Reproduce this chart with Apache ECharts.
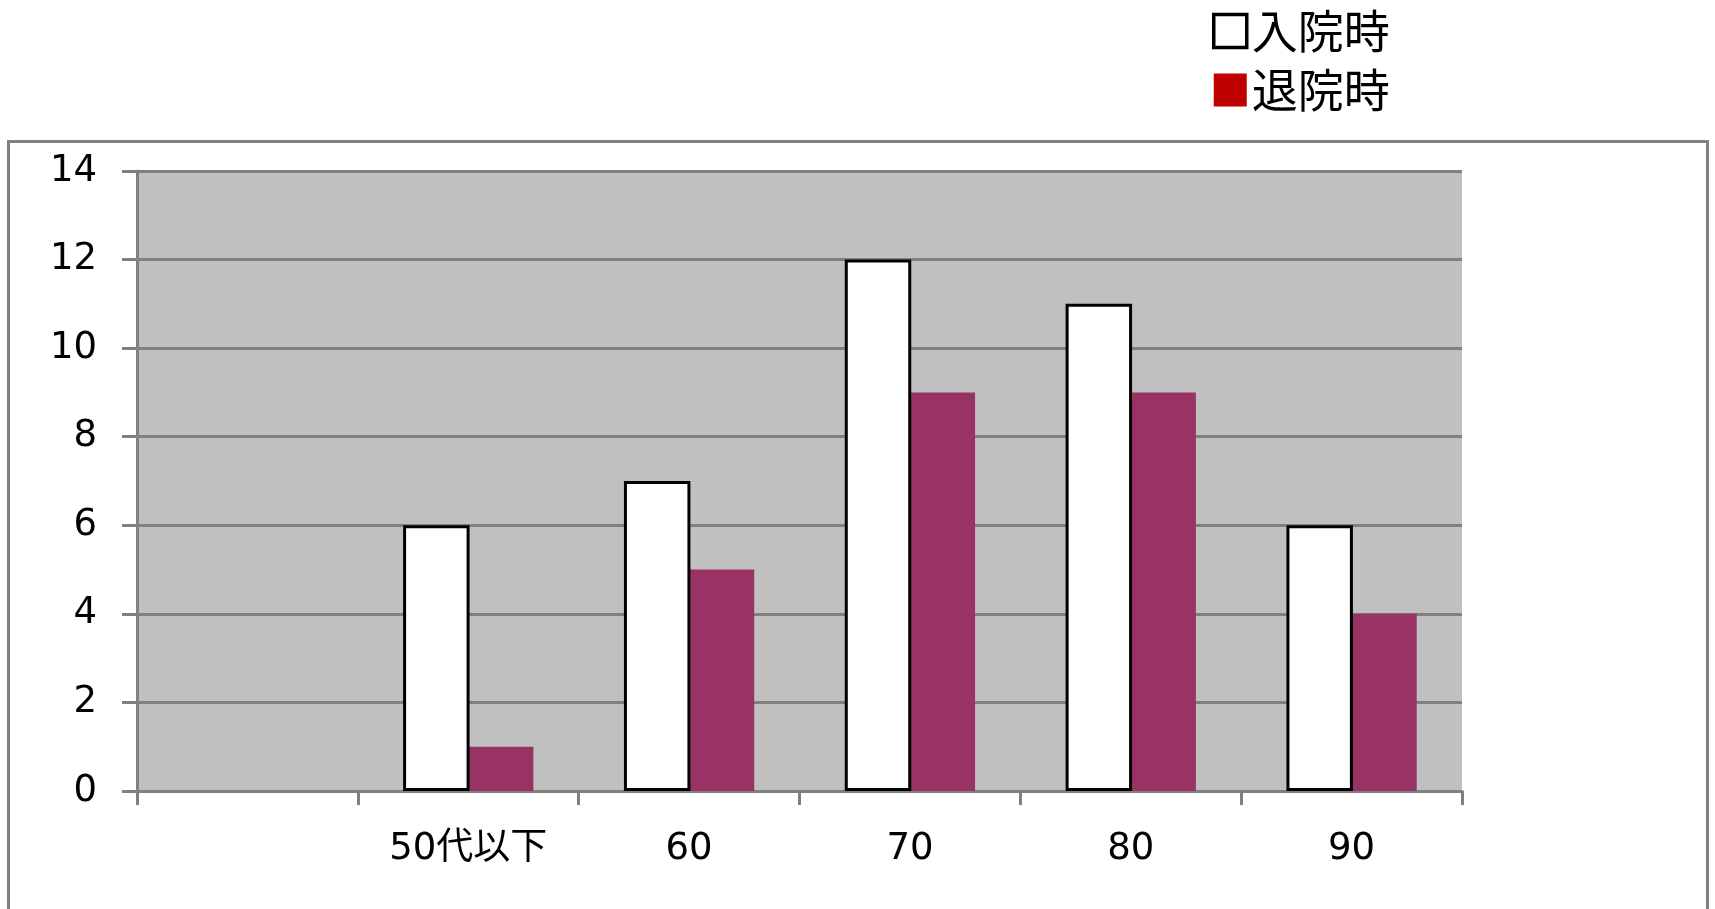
<!DOCTYPE html>
<html>
<head>
<meta charset="utf-8">
<script src="https://cdn.jsdelivr.net/npm/echarts@6/dist/echarts.min.js"></script>
<style>
html,body{margin:0;padding:0;background:#fff;}
#chart{width:1715px;height:909px;}
</style>
</head>
<body>
<div id="chart"></div>
<script>
const categories = ['', '50代以下', '60', '70', '80', '90'];
const admission = [null, 6, 7, 12, 11, 6];   // 入院時
const discharge = [null, 1, 5, 9, 9, 4];     // 退院時
const seriesNames = ['入院時', '退院時'];
const yTicks = { min: 0, max: 14, interval: 2 };

const chart = echarts.init(document.getElementById('chart'));
const gray = '#808080';
const labelFont = 'DejaVu Sans, "Noto Sans CJK JP", sans-serif';

chart.setOption({
  animation: false,
  backgroundColor: '#ffffff',
  graphic: [{
    type: 'rect',
    shape: { x: 8.5, y: 141.5, width: 1699, height: 900 },
    style: { fill: null, stroke: gray, lineWidth: 3 },
    silent: true,
    z: -1
  }],
  legend: {
    orient: 'vertical',
    left: 1212,
    top: 8,
    padding: 0,
    itemWidth: 33,
    itemHeight: 33,
    itemGap: 13,
    itemTextGap: 13,
    textStyle: {
      fontFamily: '"Noto Sans CJK JP", sans-serif',
      fontSize: 46,
      color: '#000'
    },
    data: [
      { name: seriesNames[0], icon: 'rect', itemStyle: { color: '#ffffff', borderColor: '#000', borderWidth: 3.5 } },
      { name: seriesNames[1], icon: 'rect', itemStyle: { color: '#C00000', borderWidth: 0 } }
    ]
  },
  grid: {
    left: 137,
    right: 253,
    top: 171,
    bottom: 118,
    show: true,
    backgroundColor: '#C0C0C0',
    borderWidth: 0
  },
  xAxis: {
    type: 'category',
    data: categories,
    boundaryGap: true,
    axisLine: { show: true, lineStyle: { color: gray, width: 3 } },
    axisTick: { show: true, alignWithLabel: false, length: 14, lineStyle: { color: gray, width: 3 } },
    axisLabel: {
      show: true,
      interval: 0,
      margin: 40,
      fontFamily: labelFont,
      fontSize: 37,
      color: '#000'
    },
    splitLine: { show: false }
  },
  yAxis: {
    type: 'value',
    min: yTicks.min,
    max: yTicks.max,
    interval: yTicks.interval,
    axisLine: { show: true, lineStyle: { color: gray, width: 3 } },
    axisTick: { show: true, length: 15, lineStyle: { color: gray, width: 3 } },
    axisLabel: {
      margin: 40,
      fontFamily: labelFont,
      fontSize: 37,
      color: '#000'
    },
    splitLine: { show: true, lineStyle: { color: gray, width: 3 } }
  },
  series: [
    {
      name: seriesNames[0],
      type: 'bar',
      data: admission,
      barGap: '-4%',
      barCategoryGap: '41%',
      itemStyle: { color: '#ffffff', borderColor: '#000000', borderWidth: 3 },
      z: 3
    },
    {
      name: seriesNames[1],
      type: 'bar',
      data: discharge,
      barGap: '-4%',
      barCategoryGap: '41%',
      itemStyle: { color: '#993366' },
      z: 2
    }
  ]
});
</script>
</body>
</html>
